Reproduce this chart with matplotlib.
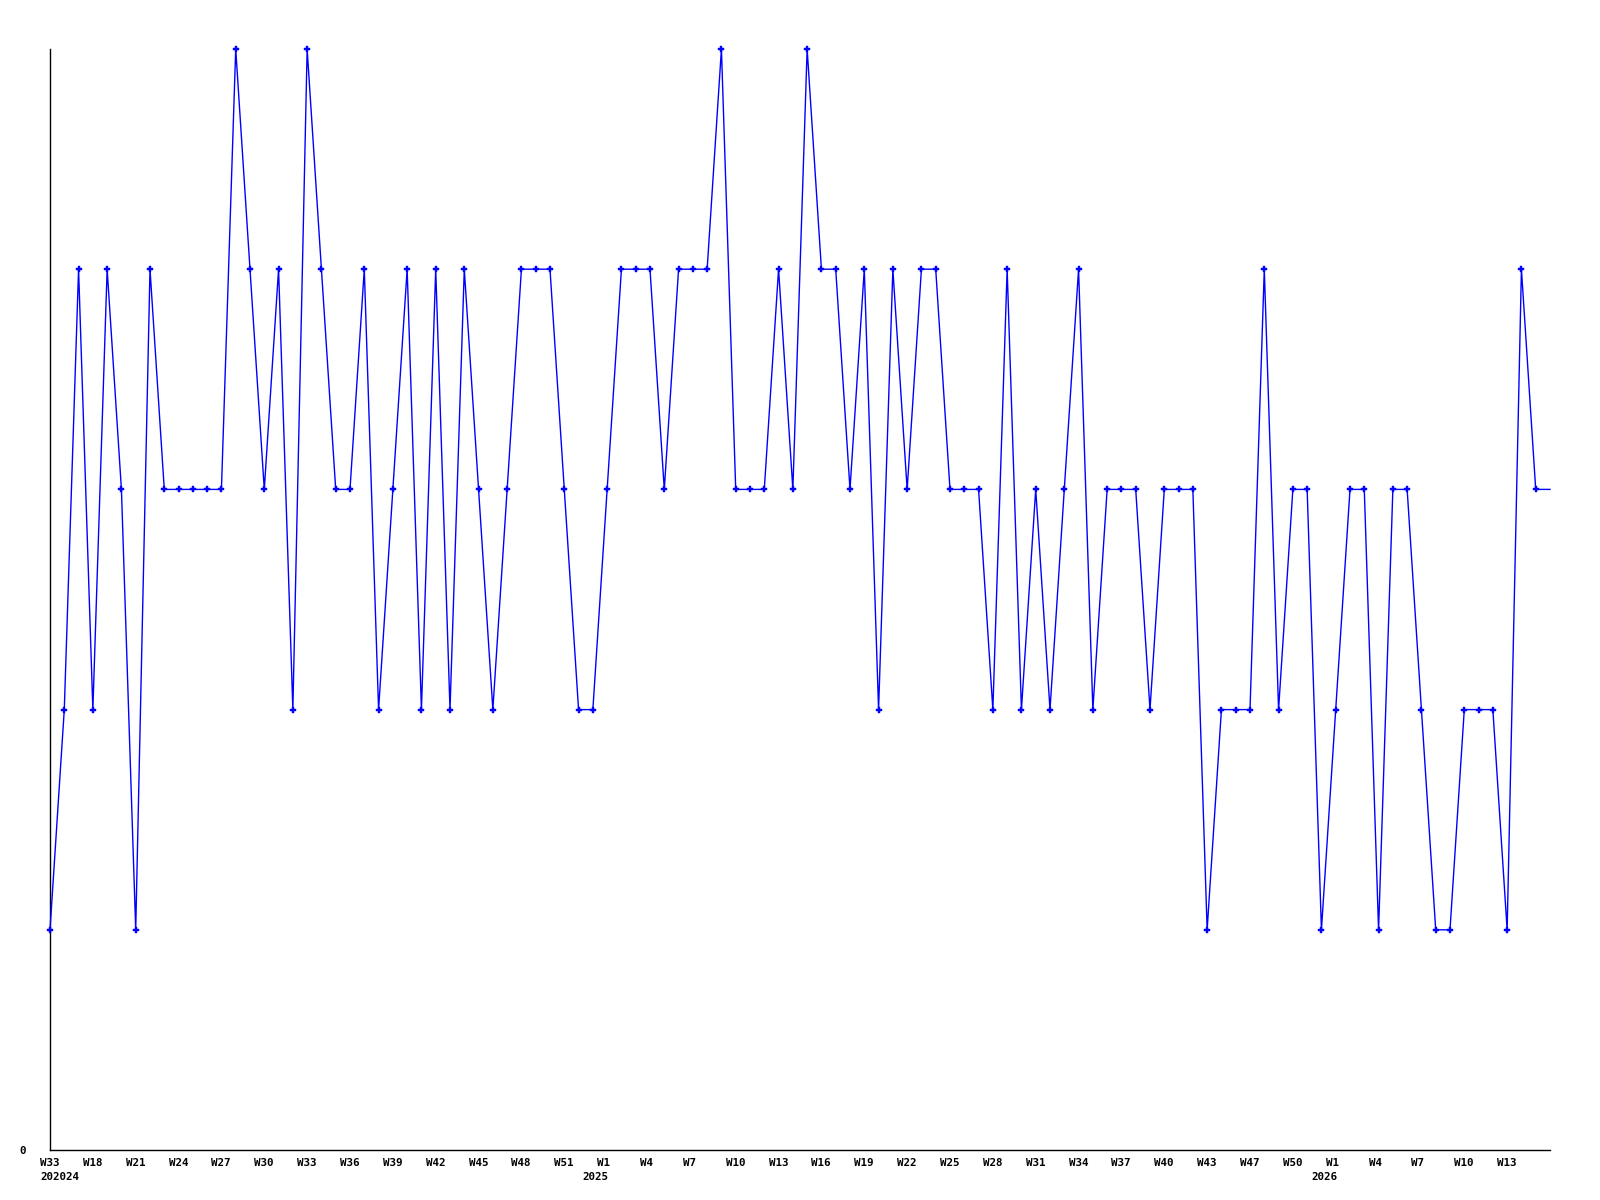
import matplotlib
matplotlib.use("Agg")
import matplotlib.pyplot as plt
import numpy as np

values = [1, 2, 4, 2, 4, 3, 1, 4, 3, 3, 3, 3, 3, 5, 4, 3, 4, 2, 5, 4,
          3, 3, 4, 2, 3, 4, 2, 4, 2, 4, 3, 2, 3, 4, 4, 4, 3, 2, 2, 3,
          4, 4, 4, 3, 4, 4, 4, 5, 3, 3, 3, 4, 3, 5, 4, 4, 3, 4, 2, 4,
          3, 4, 4, 3, 3, 3, 2, 4, 2, 3, 2, 3, 4, 2, 3, 3, 3, 2, 3, 3,
          3, 1, 2, 2, 2, 4, 2, 3, 3, 1, 2, 3, 3, 1, 3, 3, 2, 1, 1, 2,
          2, 2, 1, 4, 3, 3]

tick_labels = ["W33", "W18", "W21", "W24", "W27", "W30", "W33", "W36", "W39",
               "W42", "W45", "W48", "W51", "W1", "W4", "W7", "W10", "W13",
               "W16", "W19", "W22", "W25", "W28", "W31", "W34", "W37", "W40",
               "W43", "W47", "W50", "W1", "W4", "W7", "W10", "W13"]
tick_positions = list(range(0, 105, 3))

year_labels = ["202024", "2025", "2026"]
year_positions = [0, 38, 89]

x = np.arange(len(values))

fig = plt.figure(figsize=(16, 12), dpi=100)
ax = fig.add_axes([50 / 1600, 1 - 1150 / 1200, 1500 / 1600, (1150 - 49) / 1200])

ax.plot(x, values, color="#0000ff", linewidth=1.0, marker="P", markersize=4.6,
        markeredgewidth=0.3, markeredgecolor="#0000ff",
        markevery=list(range(len(values) - 1)), clip_on=False, zorder=3)

ax.set_xlim(0, len(values) - 1)
ax.set_ylim(0, 5)
for s in ("top", "right"):
    ax.spines[s].set_visible(False)
for s in ("left", "bottom"):
    ax.spines[s].set_linewidth(1.0)
    ax.spines[s].set_color("black")
ax.set_xticks([])
ax.set_yticks([])

font = dict(family="DejaVu Sans Mono", fontweight="bold", fontsize=7.8, color="black")

for pos, lab in zip(tick_positions, tick_labels):
    ax.annotate(lab, xy=(pos, 0), xycoords="data", xytext=(-10, -8),
                textcoords="offset pixels", ha="left", va="top", annotation_clip=False, **font)

for pos, lab in zip(year_positions, year_labels):
    ax.annotate(lab, xy=(pos, 0), xycoords="data", xytext=(-10, -22),
                textcoords="offset pixels", ha="left", va="top", annotation_clip=False, **font)

ax.annotate("0", xy=(0, 0), xycoords="data", xytext=(-24, -1),
            textcoords="offset pixels", ha="right", va="center", annotation_clip=False, **font)

fig.savefig("out.png", dpi=100, facecolor="white")
